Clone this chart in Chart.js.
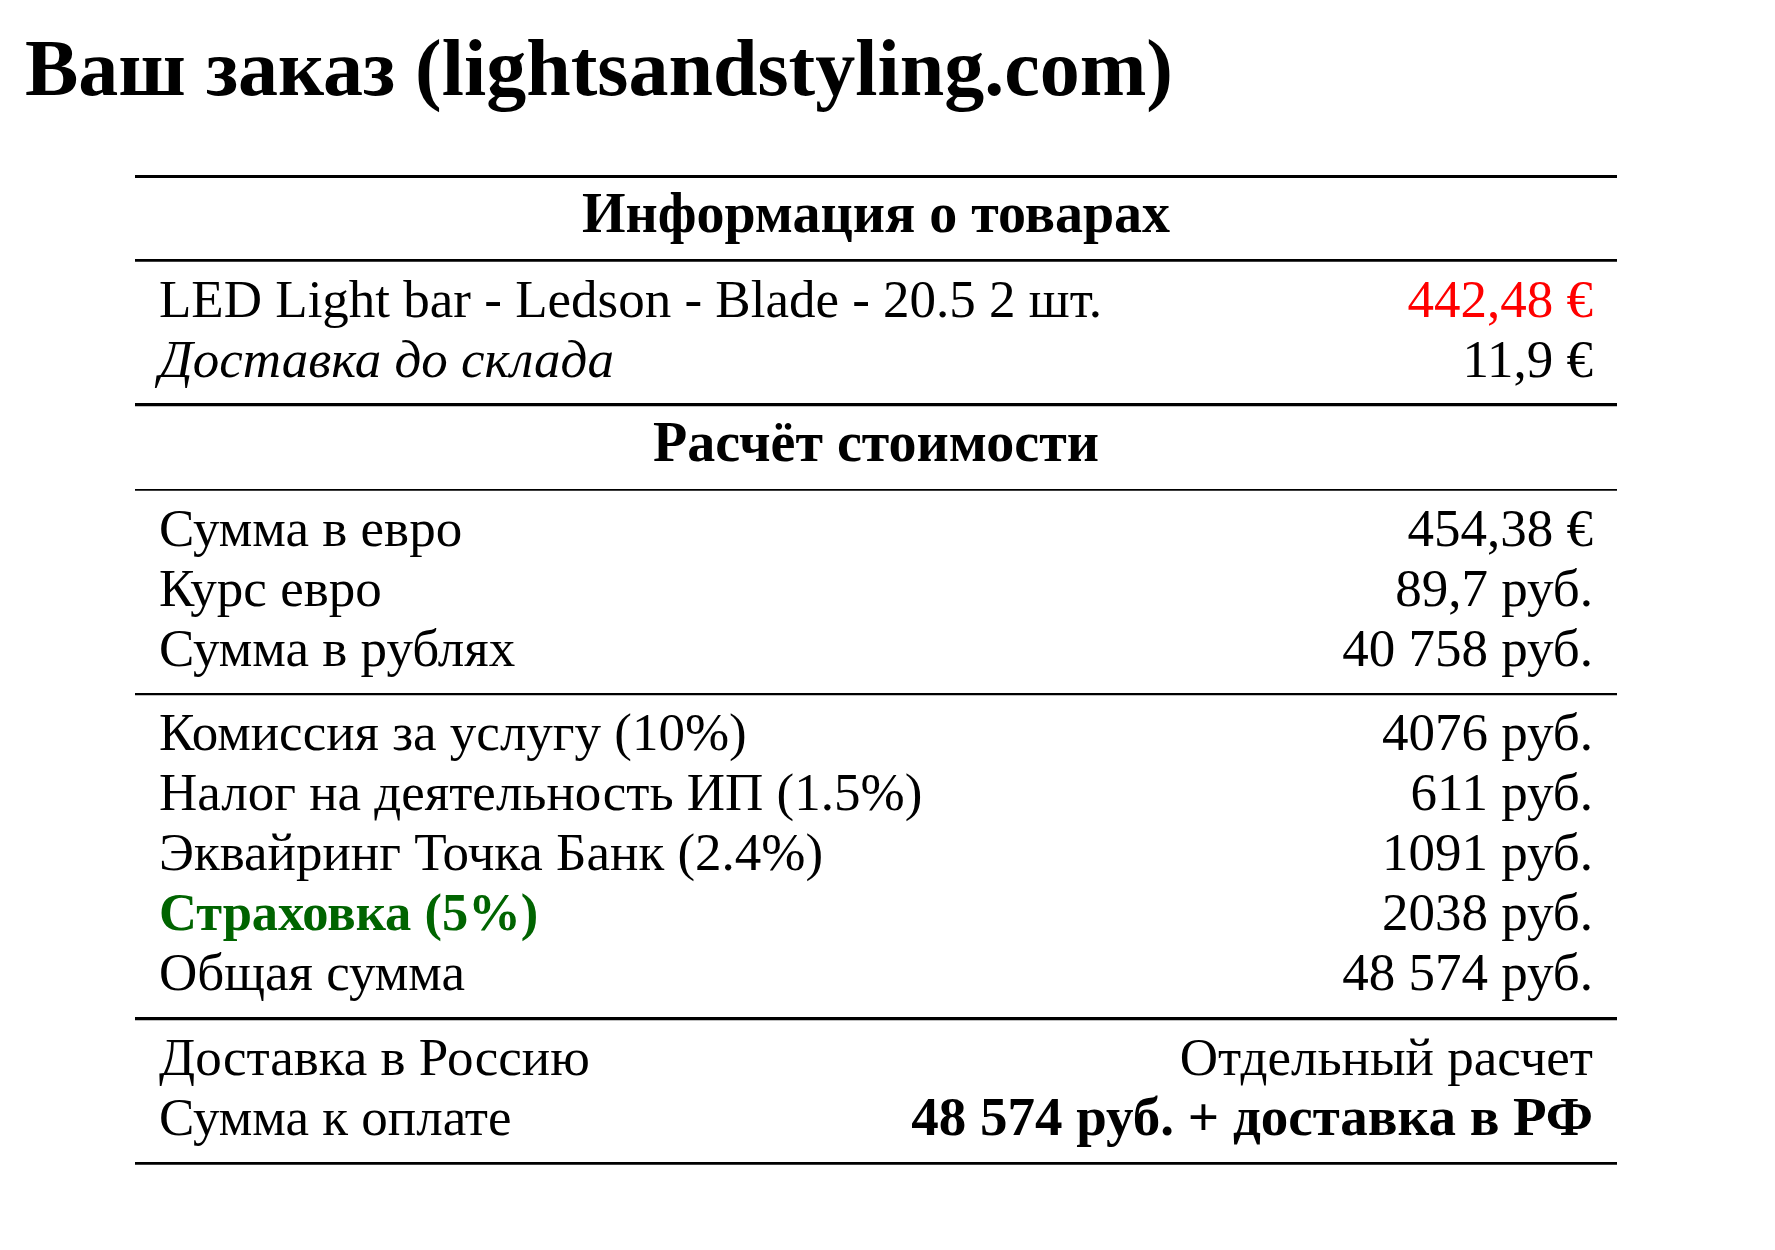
<!DOCTYPE html>
<html lang="ru">
<head>
<meta charset="utf-8">
<title>Ваш заказ</title>
<script src="https://cdn.jsdelivr.net/npm/chart.js@4.4.1/dist/chart.umd.min.js"></script>
<style>
  html, body { margin: 0; padding: 0; background: #fff; }
  #wrap { width: 1775px; height: 1250px; }
</style>
</head>
<body>
<div id="wrap"><canvas id="orderChart" width="1775" height="1250"></canvas></div>
<script>
const chartTitle = "Ваш заказ (lightsandstyling.com)";
const headers = ["Информация о товарах", "Расчёт стоимости"];

const itemLabels = ["LED Light bar - Ledson - Blade - 20.5 2 шт.", "Доставка до склада"];
const itemValues = ["442,48 €", "11,9 €"];

const sumLabels = ["Сумма в евро", "Курс евро", "Сумма в рублях"];
const sumValues = ["454,38 €", "89,7 руб.", "40 758 руб."];

const feeLabels = ["Комиссия за услугу (10%)", "Налог на деятельность ИП (1.5%)",
  "Эквайринг Точка Банк (2.4%)", "Страховка (5%)", "Общая сумма"];
const feeValues = ["4076 руб.", "611 руб.", "1091 руб.", "2038 руб.", "48 574 руб."];

const payLabels = ["Доставка в Россию", "Сумма к оплате"];
const payValues = ["Отдельный расчет", "48 574 руб. + доставка в РФ"];

// blocks of the table, a rule under each one
const blocks = [
  { header: headers[0] },
  { labels: itemLabels, values: itemValues },
  { header: headers[1] },
  { labels: sumLabels, values: sumValues },
  { labels: feeLabels, values: feeValues },
  { labels: payLabels, values: payValues }
];

// styles
const FONT = "'Liberation Serif', 'Times New Roman', serif";
const bodySize = 53;
const headerSize = 56;
const cellPad = 24;
const ruleWidths = [3, 2.7, 3.3, 1.7, 2.3, 3.3, 2.7];
const special = {
  "Доставка до склада": { style: "italic" },
  "442,48 €": { color: "#ff0000" },
  "Страховка (5%)": { weight: "bold", color: "#006400", size: 52.5 },
  "48 574 руб. + доставка в РФ": { weight: "bold", size: 55 }
};

// row positions in line units (1 = one text line)
const ruleBelow = 0.94, ruleAbove = 0.47;
const rules = [0];
const headerPts = [], leftPts = [], rightPts = [];
let cur = 0;
blocks.forEach(b => {
  cur += ruleBelow;
  if (b.header) {
    headerPts.push({ x: 0.5, y: cur, text: b.header });
  } else {
    b.labels.forEach((t, i) => {
      if (i > 0) cur += 1;
      leftPts.push({ x: 0, y: cur, text: t });
      rightPts.push({ x: 1, y: cur, text: b.values[i] });
    });
  }
  cur += ruleAbove;
  rules.push(cur);
});

// writes the cell texts at the points placed by the scales
const cellText = {
  id: "cellText",
  afterDatasetsDraw(chart) {
    const ctx = chart.ctx;
    chart.data.datasets.forEach((ds, di) => {
      const meta = chart.getDatasetMeta(di);
      meta.data.forEach((pt, i) => {
        const t = ds.data[i].text;
        const s = special[t] || {};
        ctx.save();
        ctx.font = (s.style || "normal") + " " + (s.weight || ds.weight) + " " +
          (s.size || ds.size) + "px " + FONT;
        ctx.fillStyle = s.color || "#000";
        ctx.textAlign = ds.align;
        ctx.textBaseline = "alphabetic";
        ctx.fillText(t, pt.x + ds.shift, pt.y);
        ctx.restore();
      });
    });
  }
};

new Chart(document.getElementById("orderChart"), {
  type: "scatter",
  data: {
    datasets: [
      { data: headerPts, weight: "bold", size: headerSize, align: "center", shift: 0, pointRadius: 0 },
      { data: leftPts, weight: "normal", size: bodySize, align: "left", shift: cellPad, pointRadius: 0 },
      { data: rightPts, weight: "normal", size: bodySize, align: "right", shift: -cellPad, pointRadius: 0 }
    ]
  },
  options: {
    responsive: false,
    animation: false,
    devicePixelRatio: 1,
    layout: { padding: { left: 25, right: 158, top: 0, bottom: 87 } },
    plugins: {
      legend: { display: false },
      tooltip: { enabled: false },
      title: {
        display: true,
        text: chartTitle,
        align: "start",
        color: "#000",
        font: { family: FONT, size: 80, weight: "bold" },
        padding: { top: 26, bottom: 54 }
      }
    },
    scales: {
      x: { type: "linear", min: 0, max: 1, display: false },
      y: {
        type: "linear",
        reverse: true,
        min: 0,
        max: cur,
        afterBuildTicks: s => { s.ticks = rules.map(v => ({ value: v })); },
        afterFit: s => { s.width = 110; },
        ticks: { display: false },
        border: { display: false },
        grid: { color: "#000", lineWidth: c => ruleWidths[c.index], drawTicks: false }
      }
    }
  },
  plugins: [cellText]
});
</script>
</body>
</html>
